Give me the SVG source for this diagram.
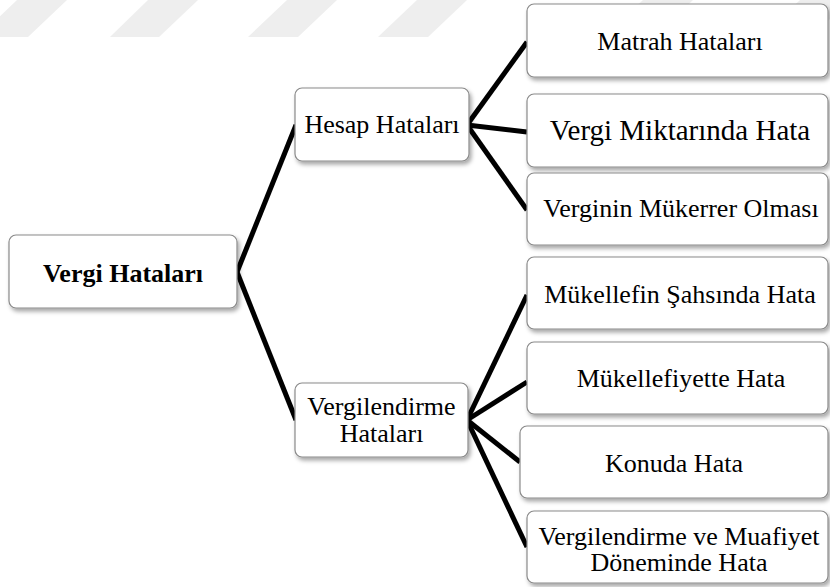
<svg xmlns="http://www.w3.org/2000/svg" width="830" height="587" viewBox="0 0 830 587">
  <defs>
    <filter id="sh" x="-10%" y="-20%" width="125%" height="150%">
      <feDropShadow dx="2" dy="3" stdDeviation="2" flood-color="#000" flood-opacity="0.35"/>
    </filter>
    <style>
      .box { fill: #ffffff; stroke: #8a8a8a; stroke-width: 1.2; filter: url(#sh); }
      .t { font-family: "Liberation Serif", "Times New Roman", serif; font-size: 26px; fill: #000; text-anchor: middle; }
      .b { font-weight: bold; }
      .wm { fill: #eeeeee; }
      .conn line { stroke: #000; stroke-width: 5; stroke-linecap: butt; }
    </style>
  </defs>
  <rect width="830" height="587" fill="#ffffff"/>
  <g id="watermark">
    <polygon class="wm" points="17,0 67,0 28,37 -22,37"/>
    <polygon class="wm" points="148,0 198,0 159,37 110,37"/>
    <polygon class="wm" points="287,0 337,0 298,37 248,37"/>
    <polygon class="wm" points="417,0 467,0 428,37 378,37"/>
    <polygon class="wm" points="643,0 693,0 654,37 604,37"/>
    <polygon class="wm" points="800,0 850,0 811,37 761,37"/>
  </g>
  <g id="connectors" class="conn">
    <line x1="237" y1="272" x2="296" y2="125"/>
    <line x1="237" y1="272" x2="296" y2="420"/>
    <line x1="467" y1="125" x2="527" y2="42"/>
    <line x1="467" y1="125" x2="527" y2="132"/>
    <line x1="467" y1="125" x2="527" y2="210"/>
    <line x1="467" y1="420" x2="527" y2="295"/>
    <line x1="467" y1="420" x2="527" y2="382"/>
    <line x1="467" y1="420" x2="520" y2="462"/>
    <line x1="467" y1="420" x2="527" y2="547"/>
  </g>
  <g id="n-vergi-hatalari">
    <rect class="box" x="9" y="235" width="228" height="73" rx="7"/>
    <text class="t b" x="123" y="282">Vergi Hataları</text>
  </g>
  <g id="n-hesap">
    <rect class="box" x="295" y="88" width="174" height="73" rx="7"/>
    <text class="t" x="382" y="133">Hesap Hataları</text>
  </g>
  <g id="n-vergilendirme">
    <rect class="box" x="295" y="383" width="173" height="74" rx="7"/>
    <text class="t" x="381.5" y="415">Vergilendirme</text>
    <text class="t" x="381.5" y="442">Hataları</text>
  </g>
  <g id="n-matrah">
    <rect class="box" x="527" y="4" width="301" height="73" rx="7"/>
    <text class="t" x="680" y="50">Matrah Hataları</text>
  </g>
  <g id="n-miktar">
    <rect class="box" x="527" y="94" width="301" height="73" rx="7"/>
    <text class="t" x="680" y="140" style="font-size:29px">Vergi Miktarında Hata</text>
  </g>
  <g id="n-mukerrer">
    <rect class="box" x="527" y="173" width="301" height="72" rx="7"/>
    <text class="t" x="681" y="217">Verginin Mükerrer Olması</text>
  </g>
  <g id="n-sahsinda">
    <rect class="box" x="527" y="257" width="301" height="72" rx="7"/>
    <text class="t" x="680" y="303">Mükellefin Şahsında Hata</text>
  </g>
  <g id="n-mukellefiyette">
    <rect class="box" x="527" y="342" width="301" height="72" rx="7"/>
    <text class="t" x="681" y="387">Mükellefiyette Hata</text>
  </g>
  <g id="n-konuda">
    <rect class="box" x="520" y="426" width="308" height="72" rx="7"/>
    <text class="t" x="674" y="472">Konuda Hata</text>
  </g>
  <g id="n-muafiyet">
    <rect class="box" x="527" y="511" width="301" height="72" rx="7"/>
    <text class="t" x="679" y="545">Vergilendirme ve Muafiyet</text>
    <text class="t" x="679" y="571">Döneminde Hata</text>
  </g>
</svg>
